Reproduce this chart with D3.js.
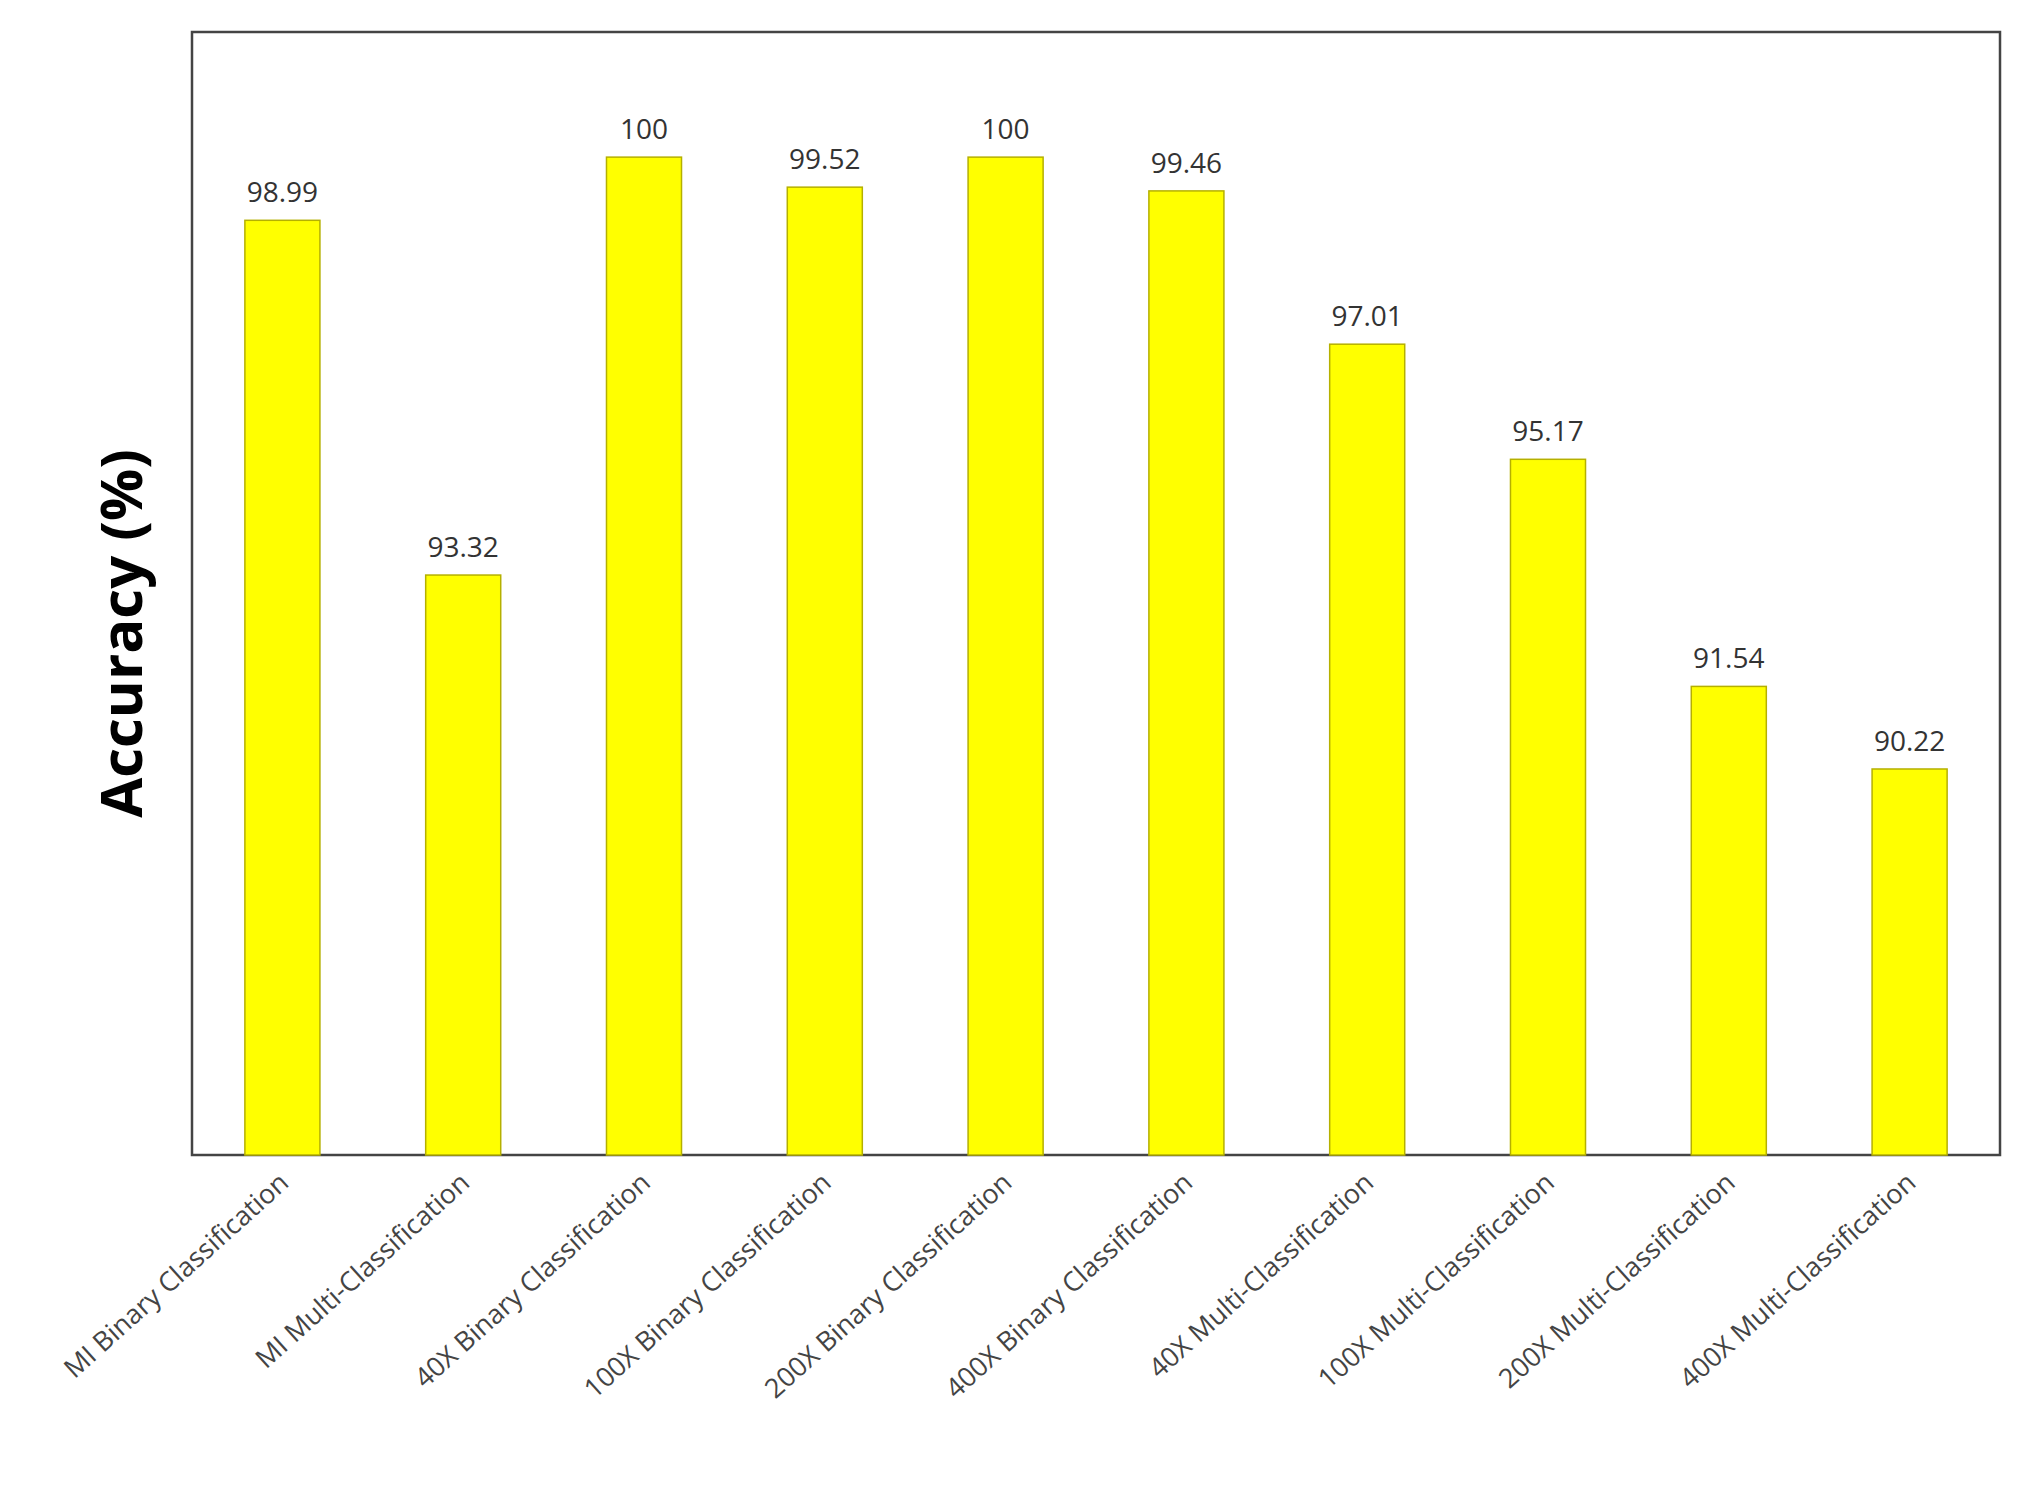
<!doctype html>
<head><meta charset="utf-8" />
<style>
  body { margin: 0; background: #fff; }
  text { font-family: "Open Sans", "DejaVu Sans", sans-serif; }
</style>
</head>
<body>
<svg id="chart" width="2021" height="1510"></svg>
<script src="https://cdn.jsdelivr.net/npm/d3@7"></script>
<script>

  var categories = [
        'MI Binary Classification', 'MI Multi-Classification'
      , '40X Binary Classification', '100X Binary Classification'
      , '200X Binary Classification', '400X Binary Classification'
      , '40X Multi-Classification', '100X Multi-Classification'
      , '200X Multi-Classification', '400X Multi-Classification'
      ]
    , accuracy = [98.99, 93.32, 100, 99.52, 100, 99.46, 97.01, 95.17, 91.54, 90.22]
    , valueLabels = ['98.99', '93.32', '100', '99.52', '100', '99.46', '97.01', '95.17', '91.54', '90.22']

  // note: `top` is taken by window.top, so use plot* names
  var plotLeft = 192, plotTop = 32, plotRight = 2000, plotBottom = 1155

    , svg = d3.select('#chart')
    , x = d3.scaleBand().domain(categories).range([plotLeft, plotRight]).paddingInner(0.585).paddingOuter(0.2925)
    , y = d3.scaleLinear().domain([84.05, 102]).range([plotBottom, plotTop])

  svg.append('rect')
      .attr('x', plotLeft).attr('y', plotTop)
      .attr('width', plotRight - plotLeft).attr('height', plotBottom - plotTop)
      .attr('fill', 'none').attr('stroke', '#444').attr('stroke-width', 2.5)

  svg.selectAll('rect.bar')
      .data(accuracy)
    .enter().append('rect')
      .attr('class', 'bar')
      .attr('x', (d, i) => x(categories[i]))
      .attr('y', d => y(d))
      .attr('width', x.bandwidth())
      .attr('height', d => plotBottom - y(d))
      .attr('fill', '#ffff00')
      .attr('stroke', '#b5b000')
      .attr('stroke-width', 1.5)

  svg.selectAll('text.value')
      .data(accuracy)
    .enter().append('text')
      .attr('class', 'value')
      .attr('x', (d, i) => x(categories[i]) + x.bandwidth() / 2)
      .attr('y', d => y(d) - 18)
      .attr('text-anchor', 'middle')
      .attr('font-size', 28)
      .attr('fill', '#333')
      .text((d, i) => valueLabels[i])

  svg.selectAll('text.cat')
      .data(categories)
    .enter().append('text')
      .attr('class', 'cat')
      .attr('transform', d => 'translate(' + (x(d) + x.bandwidth() / 2 + 8) + ',' + (plotBottom + 30) + ') rotate(-42)')
      .attr('text-anchor', 'end')
      .attr('font-size', 27)
      .attr('fill', '#444')
      .text(d => d)

  svg.append('text')
      .attr('transform', 'translate(142,' + ((plotTop + plotBottom) / 2 + 40) + ') rotate(-90)')
      .attr('text-anchor', 'middle')
      .attr('font-size', 58)
      .attr('font-weight', 'bold')
      .attr('fill', '#000')
      .text('Accuracy (%)')

</script>
</body>
